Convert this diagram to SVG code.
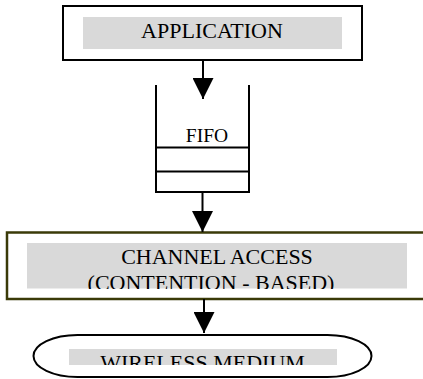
<svg xmlns="http://www.w3.org/2000/svg" width="423" height="379" viewBox="0 0 423 379">
  <style>
    .box { fill: #ffffff; stroke: #000000; stroke-width: 2; }
    .olive { fill: #ffffff; stroke: #3a3a08; stroke-width: 2.5; }
    .shade { fill: #d9d9d9; stroke: none; }
    .lbl { font-family: "Liberation Serif", "Times New Roman", serif; font-size: 22px; fill: #000000; text-anchor: middle; }
    .fifo { stroke: #000000; stroke-width: 2; fill: none; }
    .conn { stroke: #000000; stroke-width: 2; fill: none; marker-end: url(#arrow); }
  </style>
  <defs>
    <marker id="arrow" markerUnits="userSpaceOnUse" markerWidth="21" markerHeight="21" viewBox="0 0 21 21" refX="21" refY="10.5" orient="auto">
      <path d="M0,0 L21,10.5 L0,21 Z" fill="#000000"/>
    </marker>
    <clipPath id="clipChannel"><rect x="27" y="243" width="380" height="46"/></clipPath>
    <clipPath id="clipWireless"><rect x="60" y="340" width="290" height="25"/></clipPath>
  </defs>

  <rect width="423" height="379" fill="#ffffff"/>

  <g id="application">
    <rect class="box" x="63" y="6" width="299" height="54"/>
    <rect class="shade" x="83" y="17" width="259" height="32"/>
    <text class="lbl" x="212" y="38">APPLICATION</text>
  </g>

  <g id="fifo">
    <path class="fifo" d="M156,85 V192 H249 V85 M156,147.5 H249 M156,171.5 H249"/>
    <text class="lbl" x="207" y="142" style="font-size:19.5px">FIFO</text>
  </g>

  <g id="channel-access">
    <rect class="olive" x="7" y="232.5" width="430" height="66.5"/>
    <rect class="shade" x="27" y="243" width="380" height="45.5"/>
    <g clip-path="url(#clipChannel)">
      <text class="lbl" x="217" y="264">CHANNEL ACCESS</text>
      <text class="lbl" x="211" y="289.5">(CONTENTION - BASED)</text>
    </g>
  </g>

  <g id="wireless-medium">
    <rect class="box" x="33.5" y="335" width="338" height="42" rx="44" ry="21"/>
    <rect class="shade" x="69" y="349" width="268" height="16"/>
    <g clip-path="url(#clipWireless)">
      <text class="lbl" x="202.5" y="370">WIRELESS MEDIUM</text>
    </g>
  </g>

  <g id="connectors">
    <line class="conn" x1="203" y1="60" x2="203" y2="99"/>
    <line class="conn" x1="202.5" y1="192" x2="202.5" y2="232"/>
    <line class="conn" x1="204" y1="299" x2="204" y2="333"/>
  </g>
</svg>
